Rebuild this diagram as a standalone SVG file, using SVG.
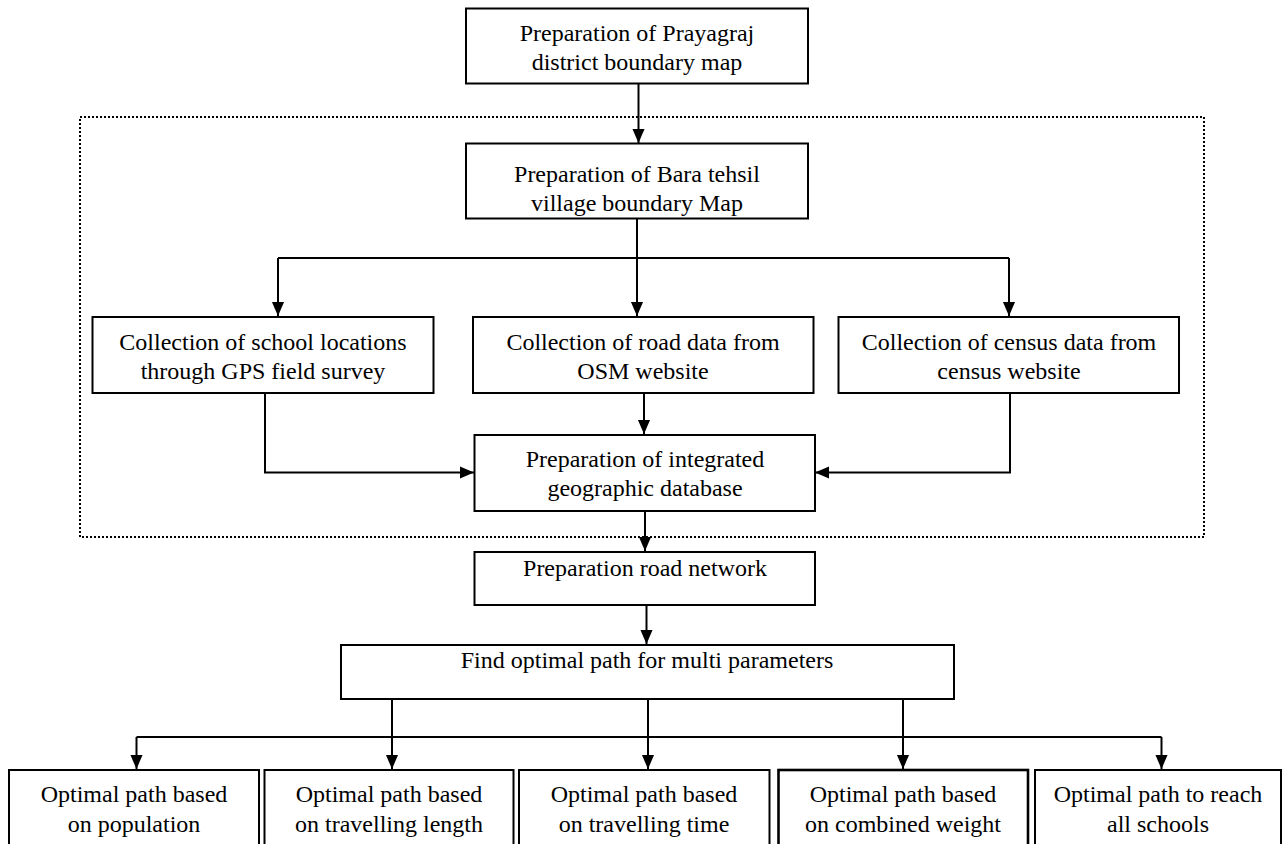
<svg xmlns="http://www.w3.org/2000/svg" width="1285" height="844" viewBox="0 0 1285 844">
<style>
.box{fill:#fff;stroke:#000;stroke-width:2}
.box4{fill:#fff;stroke:#000;stroke-width:2.6}
.t{font-family:"Liberation Serif","Times New Roman",serif;font-size:24px;fill:#000;text-anchor:middle}
.c{fill:none;stroke:#000;stroke-width:2}
.dot{fill:none;stroke:#000;stroke-width:2;stroke-dasharray:2 2}
</style>
<defs>
<marker id="ah" markerUnits="userSpaceOnUse" markerWidth="14" markerHeight="16" refX="15" refY="6.5" orient="auto" viewBox="0 0 15 13">
<path d="M0,0 L15,6.5 L0,13 Z" fill="#000"/>
</marker>
</defs>
<rect width="1285" height="844" fill="#fff"/>
<rect id="group-frame" class="dot" x="80" y="117" width="1124" height="420"/>
<g id="connectors">
<line class="c" x1="638.5" y1="84" x2="638.5" y2="143" marker-end="url(#ah)"/>
<polyline class="c" points="637,219 637,258"/>
<polyline class="c" points="278,258 1009,258"/>
<line class="c" x1="278" y1="258" x2="278" y2="316" marker-end="url(#ah)"/>
<line class="c" x1="637" y1="258" x2="637" y2="316" marker-end="url(#ah)"/>
<line class="c" x1="1009" y1="258" x2="1009" y2="316" marker-end="url(#ah)"/>
<polyline class="c" points="265,393 265,472.5 474,472.5" marker-end="url(#ah)"/>
<line class="c" x1="644" y1="393" x2="644" y2="434" marker-end="url(#ah)"/>
<polyline class="c" points="1010,393 1010,472.5 815,472.5" marker-end="url(#ah)"/>
<line class="c" x1="645" y1="511" x2="645" y2="551" marker-end="url(#ah)"/>
<line class="c" x1="646.5" y1="605" x2="646.5" y2="644" marker-end="url(#ah)"/>
<line class="c" x1="392" y1="699" x2="392" y2="769" marker-end="url(#ah)"/>
<line class="c" x1="648" y1="699" x2="648" y2="769" marker-end="url(#ah)"/>
<line class="c" x1="903" y1="699" x2="903" y2="769" marker-end="url(#ah)"/>
<polyline class="c" points="136.5,737 1161.5,737"/>
<line class="c" x1="136.5" y1="737" x2="136.5" y2="769" marker-end="url(#ah)"/>
<line class="c" x1="1161.5" y1="737" x2="1161.5" y2="769" marker-end="url(#ah)"/>
</g>
<g id="n-district">
<rect class="box" x="466" y="8.5" width="342" height="75"/>
<text class="t" x="637" y="41">Preparation of Prayagraj</text>
<text class="t" x="637" y="70">district boundary map</text>
</g>
<g id="n-bara">
<rect class="box" x="466" y="143.5" width="342" height="75"/>
<text class="t" x="637" y="182">Preparation of Bara tehsil</text>
<text class="t" x="637" y="211">village boundary Map</text>
</g>
<g id="n-school">
<rect class="box" x="92.5" y="317" width="341" height="76"/>
<text class="t" x="263" y="350">Collection of school locations</text>
<text class="t" x="263" y="379">through GPS field survey</text>
</g>
<g id="n-road">
<rect class="box" x="473" y="317" width="340.5" height="76"/>
<text class="t" x="643" y="350">Collection of road data from</text>
<text class="t" x="643" y="379">OSM website</text>
</g>
<g id="n-census">
<rect class="box" x="838.5" y="317" width="340.5" height="76"/>
<text class="t" x="1009" y="350">Collection of census data from</text>
<text class="t" x="1009" y="379">census website</text>
</g>
<g id="n-integrated">
<rect class="box" x="474.5" y="435" width="340.5" height="76"/>
<text class="t" x="645" y="467">Preparation of integrated</text>
<text class="t" x="645" y="496">geographic database</text>
</g>
<g id="n-roadnet">
<rect class="box" x="474.5" y="552" width="340.5" height="53"/>
<text class="t" x="645" y="576">Preparation road network</text>
</g>
<g id="n-find">
<rect class="box" x="341" y="645" width="613" height="54"/>
<text class="t" x="647" y="668">Find optimal path for multi parameters</text>
</g>
<g id="n-population">
<rect class="box" x="9" y="770" width="250" height="100"/>
<text class="t" x="134" y="802">Optimal path based</text>
<text class="t" x="134" y="832">on population</text>
</g>
<g id="n-length">
<rect class="box" x="264.5" y="770" width="249" height="100"/>
<text class="t" x="389" y="802">Optimal path based</text>
<text class="t" x="389" y="832">on travelling length</text>
</g>
<g id="n-time">
<rect class="box" x="519" y="770" width="250.5" height="100"/>
<text class="t" x="644" y="802">Optimal path based</text>
<text class="t" x="644" y="832">on travelling time</text>
</g>
<g id="n-weight">
<rect class="box4" x="778.5" y="770" width="249.5" height="100"/>
<text class="t" x="903" y="802">Optimal path based</text>
<text class="t" x="903" y="832">on combined weight</text>
</g>
<g id="n-allschools">
<rect class="box" x="1035" y="770" width="246" height="100"/>
<text class="t" x="1158" y="802">Optimal path to reach</text>
<text class="t" x="1158" y="832">all schools</text>
</g>
</svg>
